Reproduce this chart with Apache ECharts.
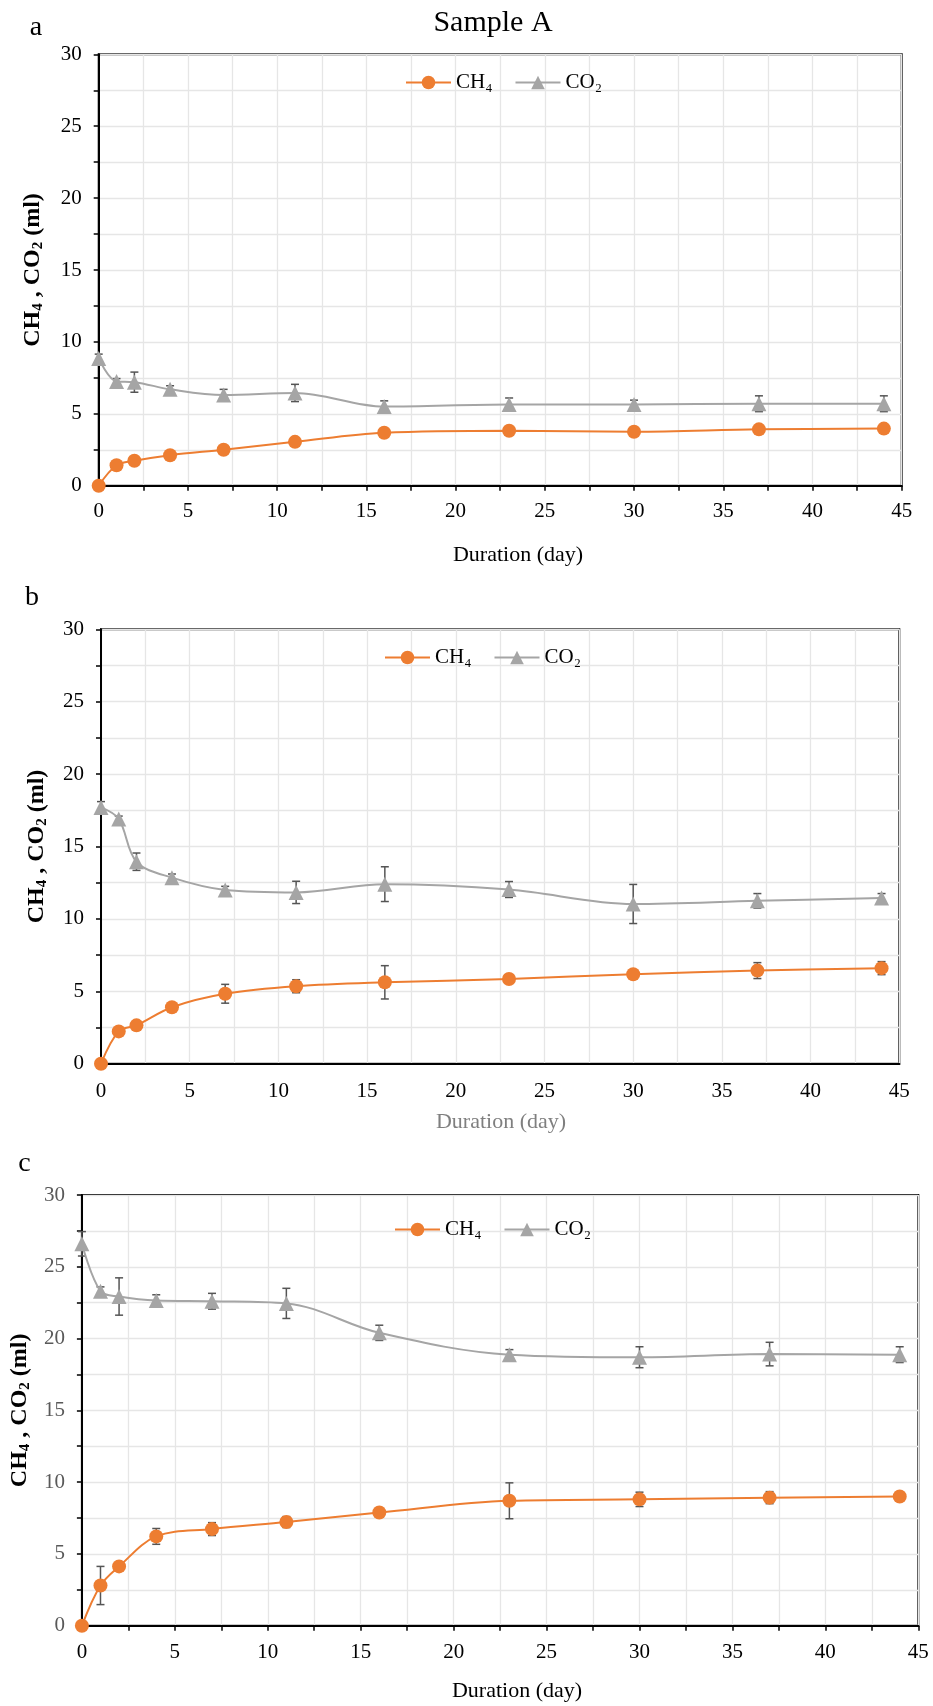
<!DOCTYPE html>
<html><head><meta charset="utf-8">
<script src="https://cdn.jsdelivr.net/npm/echarts@6/dist/echarts.min.js"></script>
<style>html,body{margin:0;padding:0;background:#fff}#c{width:933px;height:1706px}</style>
</head><body><div id="c"></div>
<script>
// ---- data ----
const days = [0, 1, 2, 4, 7, 11, 16, 23, 30, 37, 44];

const aCH4    = [0, 1.42, 1.73, 2.12, 2.5, 3.05, 3.68, 3.82, 3.75, 3.92, 3.97];
const aCH4Err = [0, 0.15, 0.15, 0.12, 0.12, 0.15, 0.2, 0.15, 0.15, 0.15, 0.12];
const aCO2    = [8.85, 7.25, 7.2, 6.7, 6.3, 6.45, 5.5, 5.65, 5.65, 5.7, 5.7];
const aCO2Err = [0.3, 0.2, 0.7, 0.25, 0.4, 0.6, 0.4, 0.45, 0.3, 0.55, 0.55];

const bCH4    = [0, 2.23, 2.65, 3.9, 4.83, 5.35, 5.62, 5.85, 6.18, 6.43, 6.6];
const bCH4Err = [0, 0.15, 0.15, 0.15, 0.65, 0.45, 1.15, 0.15, 0.3, 0.55, 0.45];
const bCO2    = [17.7, 16.9, 13.95, 12.85, 12.0, 11.83, 12.4, 12.03, 11.03, 11.25, 11.45];
const bCO2Err = [0.4, 0.2, 0.6, 0.25, 0.25, 0.77, 1.2, 0.55, 1.35, 0.5, 0.3];

const cCH4    = [0, 2.8, 4.13, 6.22, 6.73, 7.22, 7.88, 8.7, 8.8, 8.92, 9.0];
const cCH4Err = [0, 1.33, 0.3, 0.55, 0.45, 0.38, 0.2, 1.25, 0.5, 0.42, 0.2];
const cCO2    = [26.6, 23.3, 22.93, 22.65, 22.6, 22.45, 20.4, 18.88, 18.7, 18.92, 18.88];
const cCO2Err = [0.85, 0.3, 1.3, 0.4, 0.55, 1.05, 0.53, 0.35, 0.73, 0.82, 0.55];

const seriesNames = ['CH\u2084', 'CO\u2082'];
const panelLetters = ['a', 'b', 'c'];
const chartTitle = 'Sample A';
const xTitle = 'Duration (day)';

// ---- styling / layout ----
const FONT = '"Liberation Serif","Times New Roman",serif';
const ORANGE = '#ED7D31', GREY = '#A5A5A5', ERR = '#555555';
const grids = [
  {left: 98.7, top: 54.3, width: 803, height: 431.4},
  {left: 101, top: 629.3, width: 798.3, height: 434.4},
  {left: 81, top: 1195, width: 837.3, height: 430.7}
];
const showXTick = [true, false, true];
const yLabelColor = ['#000', '#000', '#595959'];
const yNameGap = [53, 51, 45];
const legendPos = [{left: 400, top: 67}, {left: 379, top: 642}, {left: 389, top: 1214}];
const xLabelMargin = [15, 17, 16];

const panels = [
  {ch4: aCH4, ch4e: aCH4Err, co2: aCO2, co2e: aCO2Err},
  {ch4: bCH4, ch4e: bCH4Err, co2: bCO2, co2e: bCO2Err},
  {ch4: cCH4, ch4e: cCH4Err, co2: cCO2, co2e: cCO2Err}
];

function errRender(params, api) {
  const x = api.value(0), y = api.value(1), e = api.value(2);
  if (!e) return null;
  const lo = api.coord([x, y - e]), hi = api.coord([x, y + e]);
  const w = 4, st = {stroke: ERR, lineWidth: 1.5};
  return {type: 'group', children: [
    {type: 'line', shape: {x1: lo[0], y1: lo[1], x2: hi[0], y2: hi[1]}, style: st},
    {type: 'line', shape: {x1: lo[0] - w, y1: lo[1], x2: lo[0] + w, y2: lo[1]}, style: st},
    {type: 'line', shape: {x1: hi[0] - w, y1: hi[1], x2: hi[0] + w, y2: hi[1]}, style: st}
  ]};
}

const option = {
  animation: false,
  backgroundColor: '#fff',
  grid: grids.map(g => Object.assign({show: true, borderColor: '#000', borderWidth: 2, backgroundColor: 'transparent'}, g)),
  xAxis: grids.map((g, i) => ({
    type: 'value', gridIndex: i, min: 0, max: 45, interval: 2.5,
    axisLine: {lineStyle: {color: '#000', width: 2}},
    axisTick: {show: showXTick[i], length: 5, lineStyle: {color: '#000', width: 1.5}},
    axisLabel: {formatter: v => (v % 5 === 0 ? String(v) : ''), fontFamily: FONT, fontSize: 21, color: '#000', margin: xLabelMargin[i]},
    splitLine: {show: true, lineStyle: {color: '#e6e6e6', width: 1.3}}
  })),
  yAxis: grids.map((g, i) => ({
    type: 'value', gridIndex: i, min: 0, max: 30, interval: 2.5,
    axisLine: {show: true, lineStyle: {color: '#000', width: 2}},
    axisTick: {show: true, length: 5, lineStyle: {color: '#000', width: 1.5}},
    axisLabel: {formatter: v => (v % 5 === 0 ? String(v) : ''), fontFamily: FONT, fontSize: 21, color: yLabelColor[i], margin: 17},
    splitLine: {show: true, lineStyle: {color: '#e6e6e6', width: 1.3}},
    name: '{n|CH}{s|4}{n| , CO}{s|2}{n| (ml)}',
    nameLocation: 'middle', nameRotate: 90, nameGap: yNameGap[i],
    nameTextStyle: {
      fontFamily: FONT, fontWeight: 'bold', fontSize: 24, color: '#000',
      rich: {
        n: {fontFamily: FONT, fontWeight: 'bold', fontSize: 24, color: '#000'},
        s: {fontFamily: FONT, fontWeight: 'bold', fontSize: 15, color: '#000', padding: [11, 0, 0, 0]}
      }
    }
  })),
  legend: legendPos.map(p => ({
    left: p.left, top: p.top, orient: 'horizontal',
    data: seriesNames, itemWidth: 45, itemHeight: 17, itemGap: 22,
    textStyle: {fontFamily: FONT, fontSize: 21, color: '#000'},
    selectedMode: false
  })),
  series: [],
  graphic: [
    {type: 'text', x: 493, y: 23, style: {text: chartTitle, fontFamily: FONT, fontSize: 30, fill: '#000', align: 'center', verticalAlign: 'middle'}},
    {type: 'text', x: 36, y: 28, style: {text: panelLetters[0], fontFamily: FONT, fontSize: 28, fill: '#000', align: 'center', verticalAlign: 'middle'}},
    {type: 'text', x: 32, y: 598, style: {text: panelLetters[1], fontFamily: FONT, fontSize: 28, fill: '#000', align: 'center', verticalAlign: 'middle'}},
    {type: 'text', x: 24.5, y: 1164, style: {text: panelLetters[2], fontFamily: FONT, fontSize: 28, fill: '#000', align: 'center', verticalAlign: 'middle'}},
    {type: 'text', x: 518, y: 555, style: {text: xTitle, fontFamily: FONT, fontSize: 22, fill: '#000', align: 'center', verticalAlign: 'middle'}},
    {type: 'text', x: 501, y: 1122, style: {text: xTitle, fontFamily: FONT, fontSize: 22, fill: '#7f7f7f', align: 'center', verticalAlign: 'middle'}},
    {type: 'text', x: 517, y: 1691, style: {text: xTitle, fontFamily: FONT, fontSize: 22, fill: '#000', align: 'center', verticalAlign: 'middle'}}
  ]
};

panels.forEach((p, i) => {
  option.series.push({
    type: 'custom', name: 'errCO2_' + i, xAxisIndex: i, yAxisIndex: i, silent: true, z: 1,
    data: days.map((d, k) => [d, p.co2[k], p.co2e[k]]), renderItem: errRender
  });
  option.series.push({
    type: 'custom', name: 'errCH4_' + i, xAxisIndex: i, yAxisIndex: i, silent: true, z: 1,
    data: days.map((d, k) => [d, p.ch4[k], p.ch4e[k]]), renderItem: errRender
  });
  option.series.push({
    type: 'line', name: seriesNames[1], xAxisIndex: i, yAxisIndex: i,
    data: days.map((d, k) => [d, p.co2[k]]), smooth: 0.35,
    symbol: 'triangle', symbolSize: 15,
    lineStyle: {color: GREY, width: 2}, itemStyle: {color: GREY}, z: 2
  });
  option.series.push({
    type: 'line', name: seriesNames[0], xAxisIndex: i, yAxisIndex: i,
    data: days.map((d, k) => [d, p.ch4[k]]), smooth: 0.35,
    symbol: 'circle', symbolSize: 14,
    lineStyle: {color: ORANGE, width: 2}, itemStyle: {color: ORANGE}, z: 2
  });
});

const chart = echarts.init(document.getElementById('c'), null, {renderer: 'canvas'});
chart.setOption(option);
</script>
</body></html>
